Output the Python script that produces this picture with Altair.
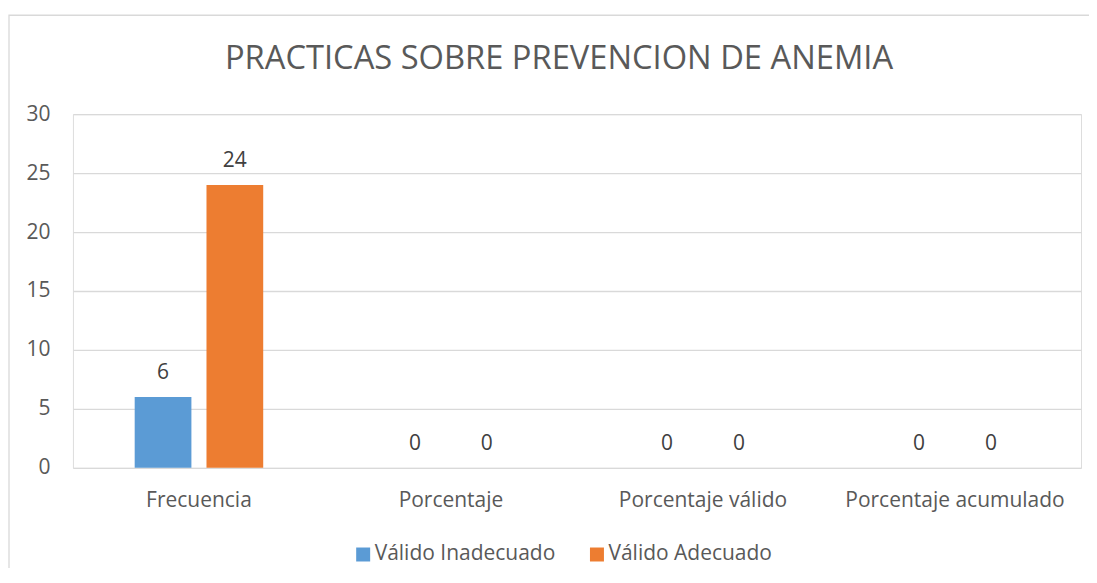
import altair as alt
import pandas as pd

categories = ["Frecuencia", "Porcentaje", "Porcentaje válido", "Porcentaje acumulado"]
series_names = ["Válido Inadecuado", "Válido Adecuado"]
inadecuado = [6, 0, 0, 0]
adecuado = [24, 0, 0, 0]
colors = ["#5B9BD5", "#ED7D31"]
title_text = "PRACTICAS SOBRE PREVENCION DE ANEMIA"

rows = []
for c, a, b in zip(categories, inadecuado, adecuado):
    rows.append({"cat": c, "serie": series_names[0], "val": a})
    rows.append({"cat": c, "serie": series_names[1], "val": b})
df = pd.DataFrame(rows)

FONT = "Open Sans"
TXT = "#595959"
FS = 21

x_axis = alt.Axis(labelAngle=0, labelFontSize=FS, labelColor=TXT, labelFont=FONT,
                  labelPadding=22, labelLimit=0, domain=False, ticks=False, grid=False)
x_enc = alt.X("cat:N", sort=categories, title=None,
              scale=alt.Scale(paddingInner=0.49, paddingOuter=0.245), axis=x_axis)
xo_enc = alt.XOffset("serie:N", sort=series_names,
                     scale=alt.Scale(paddingInner=0.21, paddingOuter=0))
y_enc = alt.Y("val:Q", title=None,
              scale=alt.Scale(domain=[0, 30], nice=False),
              axis=alt.Axis(values=[0, 5, 10, 15, 20, 25, 30], labelFontSize=FS, labelColor=TXT,
                            labelFont=FONT, labelPadding=23, domain=False, ticks=False,
                            grid=True, gridColor="#d9d9d9", gridWidth=1.3))

bars = alt.Chart(df).mark_bar().encode(
    x=x_enc, xOffset=xo_enc, y=y_enc,
    color=alt.Color("serie:N", sort=series_names,
                    scale=alt.Scale(domain=series_names, range=colors),
                    legend=alt.Legend(title=None, orient="none", direction="horizontal",
                                      legendX=280, legendY=430, symbolType="square",
                                      symbolSize=196, symbolStrokeWidth=0, labelFontSize=FS,
                                      labelColor=TXT, labelFont=FONT, columnPadding=31,
                                      labelOffset=1, padding=0, labelLimit=0)),
)

labels = alt.Chart(df).mark_text(dy=-18, baseline="alphabetic", fontSize=FS,
                                 color="#404040", font=FONT).encode(
    x=alt.X("cat:N", sort=categories, title=None, axis=x_axis),
    xOffset=alt.XOffset("serie:N", sort=series_names),
    y=alt.Y("val:Q"), text="val:Q",
)

border = alt.Chart(pd.DataFrame({"k": [0]})).mark_rect(
    fill=None, stroke="#d9d9d9", strokeWidth=1.3).encode(
    x=alt.value(-64), x2=alt.value(1060), y=alt.value(-99), y2=alt.value(520))

chart = alt.layer(border, bars, labels).properties(
    width=1009, height=354,
    title=alt.TitleParams(title_text, fontSize=32.7, font=FONT, fontWeight="normal",
                          color=TXT, anchor="middle", dx=-18, offset=-87,
                          baseline="alphabetic", frame="group"),
    autosize=alt.AutoSizeParams(type="none"),
    padding={"left": 65, "top": 106, "right": 8, "bottom": 100},
).configure_view(strokeOpacity=0, strokeWidth=0).configure(background="white")

chart.save("out.html", embed_options={"renderer": "svg", "actions": False})
